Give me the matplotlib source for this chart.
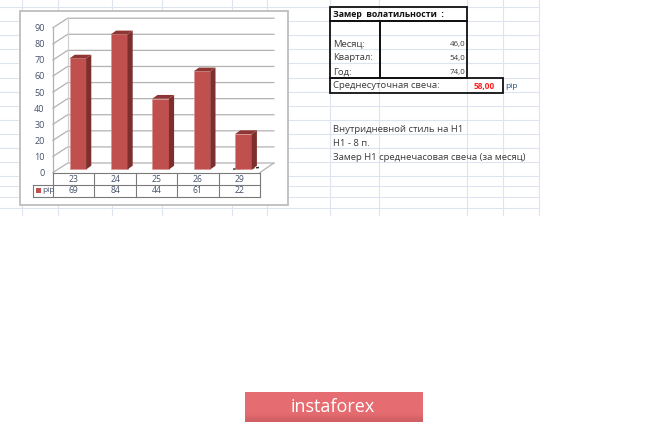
import matplotlib
matplotlib.use("Agg")
import matplotlib.pyplot as plt
import numpy as np
from matplotlib.patches import Polygon, Rectangle

plt.rcParams["font.family"] = ["Open Sans", "DejaVu Sans"]

# chart data
days = ["23", "24", "25", "26", "29"]
pips = [69, 84, 44, 61, 22]
y_ticks = [0, 10, 20, 30, 40, 50, 60, 70, 80, 90]
series_name = "pip"

# sheet text
title = "Замер  волатильности  :"
period_names = ["Месяц:", "Квартал:", "Год:"]
period_values = ["46,0", "54,0", "74,0"]
avg_label = "Среднесуточная свеча:"
avg_value = "58,00"
avg_unit = "pip"
notes = ["Внутридневной стиль на Н1", "Н1 - 8 п.", "Замер Н1 среднечасовая свеча (за месяц)"]

W, H = 665, 424
fig = plt.figure(figsize=(W / 100, H / 100), dpi=100, facecolor="white")

# pixel layer for the spreadsheet behind the chart
bg = fig.add_axes([0, 0, 1, 1])
bg.set_xlim(0, W)
bg.set_ylim(H, 0)
bg.axis("off")

GRID = "#dde3ef"
for y in [7, 21, 35, 49, 63, 78, 92, 106, 120, 134, 148, 162, 176, 186, 197, 208]:
    bg.plot([0, 539], [y, y], color=GRID, lw=0.8)
for x in [22, 58, 112, 162, 232, 267, 330, 379, 467, 503, 539]:
    bg.plot([x, x], [0, 215], color=GRID, lw=0.8)

# chart frame
bg.add_patch(Rectangle((20, 11), 268, 194, fc="white", ec="#bdbdbd", lw=1.3, zorder=3))

# tables on the right
for x, y, w, h in [(330, 6.5, 136.5, 14.5), (330, 21, 49.5, 56.5), (379.5, 21, 87, 56.5), (330, 78, 172.5, 14.5)]:
    bg.add_patch(Rectangle((x, y), w, h, fc="none", ec="#111111", lw=1.3, zorder=4))

txt = "#3a3a3a"
bg.text(333, 14.5, title, fontsize=6.3, fontweight="bold", color="#111111", va="center")
for y, name, val in zip([44, 57.7, 71.7], period_names, period_values):
    bg.text(333, y, name, fontsize=6.8, color=txt, va="center")
    bg.text(465, y + 0.5, val, fontsize=5.8, color=txt, va="center", ha="right")
bg.text(333, 86, avg_label, fontsize=6.8, color=txt, va="center")
bg.text(495, 86.5, avg_value, fontsize=6, color="#ff2020", fontweight="bold", va="center", ha="right")
bg.text(505, 87, avg_unit, fontsize=6, color="#1f4e79", va="center")
for y, line in zip([129, 143, 157], notes):
    bg.text(333, y, line, fontsize=6.8, color=txt, va="center")

# banner
grad = np.array([[0.0], [0.0], [0.0], [0.0], [0.0], [1.0]])
cmap = matplotlib.colors.LinearSegmentedColormap.from_list("b", ["#e56d71", "#cf5f63"])
bg.imshow(grad, extent=(244.5, 422, 422.5, 393), aspect="auto", cmap=cmap, interpolation="bicubic", zorder=2)
bg.set_xlim(0, W)
bg.set_ylim(H, 0)
bg.text(333, 407, "instaforex", fontsize=13, color="white", ha="center", va="center", zorder=3)

# chart axes: x in categories, y in pips, front plane of the 3d box
left, right, top, bottom = 53, 260, 27.7, 172.5
ax = fig.add_axes([left / W, 1 - bottom / H, (right - left) / W, (bottom - top) / H], zorder=5)
ax.set_xlim(0, len(days))
ax.set_ylim(0, 90)
ax.patch.set_visible(False)
for s in ax.spines.values():
    s.set_visible(False)
ax.set_xticks([])
ax.set_yticks(y_ticks)
ax.tick_params(axis="y", length=0, pad=6, labelsize=6.5, labelcolor="#44506a")

depth_x, depth_y = 0.355, 5.9   # wall depth in data units
n = len(days)
wall = "#b2b2b2"
for v in y_ticks:
    ax.plot([0, depth_x, n + depth_x - 0.02], [v, v + depth_y, v + depth_y], color=wall, lw=0.9, clip_on=False, zorder=1)
ax.plot([0, 0], [0, 90], color=wall, lw=0.9, clip_on=False, zorder=1)
ax.plot([depth_x, depth_x], [depth_y, 90 + depth_y], color="#d0d0d0", lw=0.9, clip_on=False, zorder=1)
ax.plot([n, n + depth_x - 0.02], [0, depth_y], color=wall, lw=0.9, clip_on=False, zorder=1)

# bars with side and top faces
bar_w = 0.4
off_x = 0.1
base = 1.9
side_x, side_y = 0.125, 2.3
xpos = np.arange(n) + 0.5 + off_x
ax.bar(xpos, pips, width=bar_w, bottom=base, color="#c0504d", edgecolor="#d98e8c", lw=0.4, zorder=3)
for x, v in zip(xpos, pips):
    x1 = x + bar_w / 2
    x0 = x - bar_w / 2
    t = base + v
    ax.add_patch(Polygon([(x1, base), (x1 + side_x, base + side_y), (x1 + side_x, t + side_y), (x1, t)],
                         fc="#7d2f2d", ec="none", zorder=3, clip_on=False))
    ax.add_patch(Polygon([(x0, t), (x0 + side_x, t + side_y), (x1 + side_x, t + side_y), (x1, t)],
                         fc="#8f3533", ec="none", zorder=3, clip_on=False))
# dark smudge under the last bar
ax.plot([4.35, 4.98], [base + 0.2, base + 1.2], color="#333333", lw=1.1, ls=(0, (2, 1)), zorder=2)

# data table under the axes
row1, row2 = -7.6, -15.4
line = "#7a7a7a"
ax.plot([0, n], [0, 0], color=line, lw=0.8, clip_on=False)
for y in [row1, row2]:
    ax.plot([-0.48, n], [y, y], color=line, lw=0.8, clip_on=False)
ax.plot([-0.48, -0.48], [row1, row2], color=line, lw=0.8, clip_on=False)
for i in range(n + 1):
    ax.plot([i, i], [0, row2], color=line, lw=0.8, clip_on=False)
for i in range(n):
    ax.text(i + 0.5, row1 / 2 - 0.6, days[i], fontsize=6.2, color="#44506a", ha="center", va="center", clip_on=False)
    ax.text(i + 0.5, (row1 + row2) / 2 + 0.2, str(pips[i]), fontsize=6.2, color="#44506a", ha="center", va="center", clip_on=False)
ax.add_patch(Rectangle((-0.4, -12.9), 0.1, 3.2, fc="#c0504d", ec="none", clip_on=False))
ax.text(-0.27, -11.3, series_name, fontsize=6, color="#44506a", va="center", clip_on=False)

fig.savefig("out.png", dpi=100)
